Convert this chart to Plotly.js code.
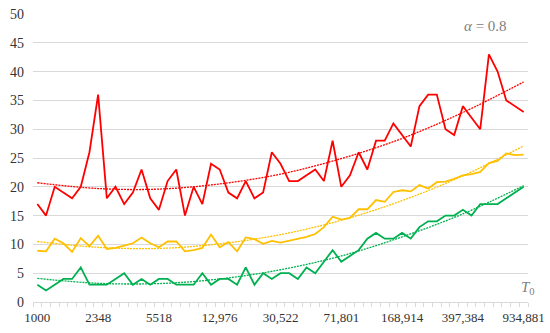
<!DOCTYPE html>
<html>
<head>
<meta charset="utf-8">
<script src="https://cdn.plot.ly/plotly-3.0.1.min.js"></script>
<style>html,body{margin:0;padding:0;background:#fff;}#chart{width:550px;height:333px;}</style>
</head>
<body>
<div id="chart"></div>
<script>
// Tick labels (T0 values at every 7th point)
var tickLabels = ['1000','2348','5518','12,976','30,522','71,801','168,914','397,384','934,881'];
var tickIndex = [0,7,14,21,28,35,42,49,56];

// Series values (57 points each)
var redValues = [17,15,20,19,18,20,26,36,18,20, 17,19,23,18,16,21,23,15,20,17,
                 24,23,19,18,21,18,19,26,24,21, 21,22,23,21,28,20,22,26,23,28,
                 28,31,29,27,34,36,36,30,29,34, 32,30,43,40,35,34,33];
var yellowValues = [8.9,8.8,11,10.2,8.7,11.1,9.7,11.5,9.2,9.4, 9.8,10.2,11.2,10.2,9.5,10.5,10.5,8.8,9.0,9.4,
                    11.7,9.5,10.4,8.8,11.2,10.9,10.1,10.6,10.3,10.6, 11.0,11.3,11.8,13.0,14.8,14.3,14.6,16.1,16.1,17.7,
                    17.4,19.1,19.4,19.2,20.3,19.7,20.8,20.9,21.4,22.0, 22.2,22.6,24.1,24.5,25.8,25.5,25.6];
var greenValues = [3,2,3,4,4,6,3,3,3,4, 5,3,4,3,4,4,3,3,3,5,
                   3,4,4,3,6,3,5,4,5,5, 4,6,5,7,9,7,8,9,11,12,
                   11,11,12,11,13,14,14,15,15,16, 15,17,17,17,18,19,20];

// Trend line values read at the labelled positions
var redTrend = [20.7,19.7,19.6,20.5,22.2,24.9,28.4,32.9,38.2];
var yellowTrend = [10.5,9.5,9.3,10.1,11.7,14.2,17.6,21.9,27.1];
var greenTrend = [4.1,3.25,3.2,4.0,5.6,8.0,11.3,15.3,20.2];

var idx = redValues.map(function(_, i){ return i; });
var SERIF = 'Liberation Serif';

function series(y, color){
  return {x: idx, y: y, type:'scatter', mode:'lines', line:{color:color, width:1.8}, hoverinfo:'skip'};
}
function trend(y, color){
  return {x: tickIndex, y: y, type:'scatter', mode:'lines', line:{color:color, width:1.3, dash:'2px,1px', shape:'spline'}, hoverinfo:'skip'};
}

var data = [
  trend(redTrend, '#FF0000'),
  trend(yellowTrend, '#FFC000'),
  trend(greenTrend, '#00B050'),
  series(redValues, '#FF0000'),
  series(yellowValues, '#FFC000'),
  series(greenValues, '#00B050')
];

var layout = {
  width:550, height:333,
  margin:{l:33, r:22, t:14, b:31, pad:0},
  paper_bgcolor:'#fff', plot_bgcolor:'#fff',
  showlegend:false,
  font:{family:SERIF, size:14, color:'#333'},
  xaxis:{
    range:[-0.5,56.5], tickmode:'array', tickvals:tickIndex, ticktext:tickLabels,
    ticks:'', showgrid:false, zeroline:false, showline:true, linecolor:'#D9D9D9', linewidth:1,
    tickfont:{family:SERIF, size:13, color:'#333'}, ticklabelstandoff:3,
    minor:{tick0:0.5, dtick:1, ticks:'outside', ticklen:4, tickcolor:'#D9D9D9', showgrid:false}
  },
  yaxis:{
    range:[0,50], tickmode:'array', tickvals:[0,5,10,15,20,25,30,35,40,45,50],
    ticks:'', showgrid:true, gridcolor:'#D9D9D9', gridwidth:1, zeroline:false, showline:false,
    tickfont:{family:SERIF, size:14, color:'#333'}, ticklabelstandoff:8
  },
  annotations:[
    {xref:'paper', yref:'paper', x:0.915, y:0.96, text:'<i>α</i> = 0.8', showarrow:false,
     font:{family:SERIF, size:15, color:'#808080'}, xanchor:'center', yanchor:'middle'},
    {xref:'paper', yref:'paper', x:1.0, y:0.05, text:'<i>T</i><sub>0</sub>', showarrow:false,
     font:{family:SERIF, size:15, color:'#808080'}, xanchor:'center', yanchor:'middle'}
  ]
};

Plotly.newPlot('chart', data, layout, {displayModeBar:false, staticPlot:true});
</script>
</body>
</html>
